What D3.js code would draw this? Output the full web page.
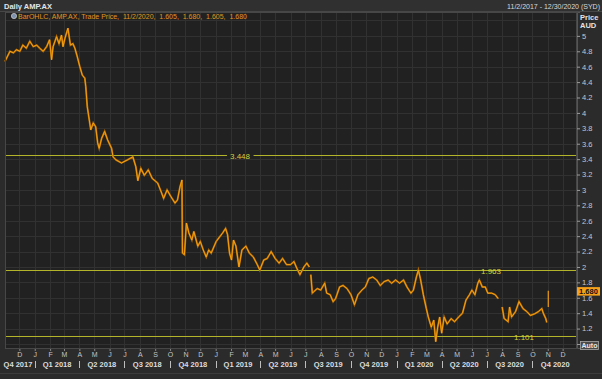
<!DOCTYPE html>
<html>
<head>
<meta charset="utf-8">
<script src="https://cdn.jsdelivr.net/npm/d3@7"></script>
<style>
  html, body { margin: 0; padding: 0; background: #2b2b2b; }
  svg { display: block; font-family: "Liberation Sans", Arial, sans-serif; }
</style>
</head>
<body>
<svg id="chart" width="602" height="379"></svg>
<script>
// daily closes (null = no trading / gap in the line)
const priceDates = [
  "2017-11-02","2017-11-12","2017-11-19","2017-11-25","2017-12-02","2017-12-08","2017-12-15","2017-12-22","2017-12-29",
  "2018-01-05","2018-01-11","2018-01-18","2018-01-25","2018-01-31","2018-02-04","2018-02-07","2018-02-14","2018-02-19",
  "2018-02-24","2018-02-27","2018-03-03","2018-03-09","2018-03-14","2018-03-19","2018-03-23","2018-03-27","2018-04-02",
  "2018-04-07","2018-04-12","2018-04-14","2018-04-17","2018-04-21","2018-04-24","2018-04-29","2018-05-04","2018-05-08",
  "2018-05-11","2018-05-16","2018-05-22","2018-05-28","2018-06-05","2018-06-08","2018-06-14","2018-06-25","2018-07-07",
  "2018-07-18","2018-07-24","2018-07-28","2018-08-03","2018-08-10","2018-08-18","2018-08-26","2018-09-06","2018-09-14",
  "2018-09-18","2018-09-25","2018-10-03","2018-10-11","2018-10-16","2018-10-21","2018-10-25","2018-10-26","2018-10-30",
  "2018-11-03","2018-11-08","2018-11-14","2018-11-18","2018-11-26","2018-12-01","2018-12-07","2018-12-13","2018-12-18",
  "2018-12-23","2019-01-02","2019-01-09","2019-01-15","2019-01-21","2019-01-25","2019-01-29","2019-02-02","2019-02-06",
  "2019-02-11","2019-02-17","2019-02-23","2019-03-03","2019-03-10","2019-03-18","2019-03-26","2019-03-31","2019-04-08",
  "2019-04-15","2019-04-23","2019-05-01","2019-05-09","2019-05-16","2019-05-24","2019-06-01","2019-06-08","2019-06-14",
  "2019-06-20","2019-06-28","2019-07-04","2019-07-09","2019-07-10","2019-07-12","2019-07-15","2019-07-18","2019-07-25",
  "2019-08-01","2019-08-09","2019-08-13","2019-08-20","2019-08-26","2019-08-31","2019-09-08","2019-09-15","2019-09-23",
  "2019-10-01","2019-10-08","2019-10-15","2019-10-23","2019-10-30","2019-11-06","2019-11-14","2019-11-22","2019-11-29",
  "2019-12-07","2019-12-15","2019-12-22","2019-12-30","2020-01-07","2020-01-15","2020-01-22","2020-01-30","2020-02-04",
  "2020-02-10","2020-02-14","2020-02-18","2020-02-24","2020-03-01","2020-03-05","2020-03-11","2020-03-16","2020-03-20",
  "2020-03-24","2020-03-28","2020-04-01","2020-04-06","2020-04-12","2020-04-20","2020-04-27","2020-05-05","2020-05-13",
  "2020-05-20","2020-05-27","2020-06-01","2020-06-07","2020-06-13","2020-06-16","2020-06-22","2020-06-28","2020-07-03",
  "2020-07-11","2020-07-18","2020-07-24","2020-07-28","2020-08-01","2020-08-05","2020-08-09","2020-08-13","2020-08-16",
  "2020-08-20","2020-08-28","2020-09-04","2020-09-12","2020-09-20","2020-09-27","2020-10-05","2020-10-13","2020-10-20",
  "2020-10-23","2020-10-28","2020-10-30"
];
const priceCloses = [
  4.67,4.80,4.78,4.82,4.80,4.88,4.84,4.93,4.86,
  4.88,4.84,4.80,4.86,4.95,4.69,4.86,4.99,4.90,
  5.01,4.86,4.97,5.10,4.88,4.90,4.84,4.75,4.60,
  4.49,4.45,4.34,4.08,3.91,3.78,3.87,3.82,3.61,
  3.54,3.67,3.76,3.65,3.54,3.43,3.39,3.35,3.39,
  3.43,3.30,3.12,3.28,3.19,3.26,3.15,3.09,2.96,
  2.89,3.00,2.91,2.83,2.87,3.04,3.13,2.18,2.16,
  2.57,2.44,2.35,2.46,2.27,2.33,2.22,2.13,2.22,
  2.18,2.33,2.39,2.44,2.50,2.42,2.18,2.09,2.35,
  2.27,2.00,2.22,2.27,2.18,2.13,2.03,1.96,2.09,
  2.11,2.20,2.11,2.05,2.11,2.03,2.03,2.07,1.98,
  1.90,2.00,2.05,2.00,null,1.90,1.66,1.68,1.72,
  1.70,1.79,1.66,1.64,1.55,1.59,1.74,1.76,1.72,
  1.64,1.51,1.64,1.70,1.74,1.85,1.87,1.83,1.76,
  1.81,1.83,1.79,1.83,1.79,1.83,1.74,1.66,1.70,
  1.87,1.96,1.85,1.64,1.46,1.35,1.22,1.31,1.03,
  1.22,1.35,1.14,1.35,1.26,1.33,1.29,1.35,1.40,
  1.57,1.64,1.70,1.64,1.79,1.83,1.74,1.74,1.66,
  1.66,1.64,1.59,null,1.48,1.33,1.31,1.29,1.48,
  1.35,1.42,1.55,1.46,1.42,1.37,1.39,1.42,1.46,
  1.40,1.33,1.28
];

// last bar (11/2/2020), high/low as drawn
const lastBarDate = "2020-11-02";
const lastBarLow = 1.48;
const lastBarHigh = 1.69;
const lastPrice = 1.680;

// horizontal reference lines
const refLevels = [3.448, 1.963, 1.101];
const refLabelX = [240, 491, 524];

const yTicks = [5, 4.8, 4.6, 4.4, 4.2, 4, 3.8, 3.6, 3.4, 3.2, 3, 2.8, 2.6, 2.4, 2.2, 2, 1.8, 1.6, 1.4, 1.2];
const yGrid = [1, 1.2, 1.4, 1.6, 1.8, 2, 2.2, 2.4, 2.6, 2.8, 3, 3.2, 3.4, 3.6, 3.8, 4, 4.2, 4.4, 4.6, 4.8, 5, 5.2];

const quarterLabels = ["Q4 2017","Q1 2018","Q2 2018","Q3 2018","Q4 2018","Q1 2019","Q2 2019","Q3 2019","Q4 2019","Q1 2020","Q2 2020","Q3 2020","Q4 2020"];
const quarterStarts = ["2017-10-01","2018-01-01","2018-04-01","2018-07-01","2018-10-01","2019-01-01","2019-04-01","2019-07-01","2019-10-01","2020-01-01","2020-04-01","2020-07-01","2020-10-01"];

const parse = d3.timeParse("%Y-%m-%d");

let svg = d3.select("#chart");
let W = 602, H = 379;
let plot = {left: 5, right: 577, top: 12, bottom: 349};

let x = d3.scaleTime()
  .domain([parse("2017-11-02"), parse("2020-12-30")])
  .range([plot.left, plot.right]);
let y = d3.scaleLinear()
  .domain([0.948, 5.31])
  .range([348, plot.top]);

// backgrounds
svg.append("rect").attr("width", W).attr("height", H).attr("fill", "#2b2b2b");
svg.append("rect").attr("width", W).attr("height", 11).attr("fill", "#303030");
svg.append("line").attr("x1", 0).attr("x2", W).attr("y1", 11.5).attr("y2", 11.5).attr("stroke", "#474747");
svg.append("rect")
  .attr("x", plot.left).attr("y", plot.top)
  .attr("width", plot.right - plot.left).attr("height", plot.bottom - plot.top)
  .attr("fill", "#212121");

let g = svg.append("g");

// grid
let months = d3.timeMonth.range(parse("2017-12-01"), parse("2021-01-01"));
g.selectAll(".vgrid").data(months).enter().append("line")
  .attr("x1", d => Math.round(x(d)) + 0.5).attr("x2", d => Math.round(x(d)) + 0.5)
  .attr("y1", plot.top).attr("y2", plot.bottom)
  .attr("stroke", "#313131");
g.selectAll(".hgrid").data(yGrid).enter().append("line")
  .attr("x1", plot.left).attr("x2", plot.right)
  .attr("y1", d => Math.round(y(d)) + 0.5).attr("y2", d => Math.round(y(d)) + 0.5)
  .attr("stroke", "#313131");

svg.append("rect")
  .attr("x", plot.left + 0.5).attr("y", plot.top + 0.5)
  .attr("width", plot.right - plot.left - 1).attr("height", plot.bottom - plot.top - 1)
  .attr("fill", "none").attr("stroke", "#474747");

// reference lines
refLevels.forEach(function(v, i) {
  let yy = Math.round(y(v)) + 0.5;
  g.append("line")
    .attr("x1", plot.left).attr("x2", plot.right)
    .attr("y1", yy).attr("y2", yy)
    .attr("stroke", "#b4b42a").attr("stroke-width", 1);
  let t = g.append("text")
    .attr("x", refLabelX[i]).attr("y", yy + 3)
    .attr("text-anchor", "middle")
    .attr("font-size", "8px")
    .attr("fill", "#d2d23c")
    .text(v.toFixed(3));
  let bb = t.node().getBBox();
  g.insert("rect", "text")
    .attr("x", bb.x - 3).attr("y", yy - 2).attr("width", bb.width + 6).attr("height", 4)
    .attr("fill", "#212121");
});

// price line
let series = priceDates.map((d, i) => ({date: parse(d), close: priceCloses[i]}));
let line = d3.line()
  .defined(d => d.close != null)
  .x(d => x(d.date))
  .y(d => y(d.close));

g.append("path")
  .datum(series)
  .attr("fill", "none")
  .attr("stroke", "#a86500")
  .attr("stroke-width", 1.9)
  .attr("stroke-linejoin", "miter")
  .attr("d", line);
g.append("path")
  .datum(series)
  .attr("fill", "none")
  .attr("stroke", "#ffa514")
  .attr("stroke-width", 0.9)
  .attr("stroke-linejoin", "miter")
  .attr("d", line);

g.append("line")
  .attr("x1", x(parse(lastBarDate))).attr("x2", x(parse(lastBarDate)))
  .attr("y1", y(lastBarLow)).attr("y2", y(lastBarHigh))
  .attr("stroke", "#ffa514").attr("stroke-width", 1.1);

// header texts
svg.append("text")
  .attr("x", 4).attr("y", 9)
  .attr("font-size", "7.5px").attr("font-weight", "bold")
  .attr("fill", "#e4e4e4")
  .text("Daily AMP.AX");
svg.append("text")
  .attr("x", 600).attr("y", 9)
  .attr("text-anchor", "end")
  .attr("font-size", "7px")
  .attr("fill", "#d8d8d8")
  .text("11/2/2017 - 12/30/2020 (SYD)");

// legend
svg.append("circle").attr("cx", 14).attr("cy", 16).attr("r", 2.6)
  .attr("fill", "#7d93ad").attr("stroke", "#c4c4c4").attr("stroke-width", 0.8);
svg.append("text")
  .attr("x", 18).attr("y", 19)
  .attr("font-size", "7px")
  .attr("fill", "#e3951c")
  .attr("xml:space", "preserve")
  .text("BarOHLC, AMP.AX, Trade Price,  11/2/2020,  1.605,  1.680,  1.605,  1.680");

// right axis
svg.append("text").attr("x", 580).attr("y", 19.5)
  .attr("font-size", "7.5px").attr("font-weight", "bold").attr("fill", "#e4e4e4").text("Price");
svg.append("text").attr("x", 580).attr("y", 28)
  .attr("font-size", "7.5px").attr("font-weight", "bold").attr("fill", "#e4e4e4").text("AUD");

let yAxis = svg.append("g")
  .attr("transform", "translate(" + plot.right + ",0)")
  .call(d3.axisRight(y).tickValues(yTicks.concat([1])).tickSize(3).tickPadding(2)
    .tickFormat(d => d === 1 ? "" : String(d)));
yAxis.select(".domain").attr("stroke", "#555");
yAxis.selectAll(".tick line").attr("stroke", "#9a9a9a");
yAxis.selectAll(".tick text").attr("fill", "#c8c8c8").attr("font-size", "7.5px")
  .attr("font-family", "'Liberation Sans', Arial, sans-serif");

// last price flag
let ly = y(lastPrice);
svg.append("rect").attr("x", 577).attr("y", ly - 4.5).attr("width", 23).attr("height", 8.5).attr("fill", "#f7a11a");
svg.append("text").attr("x", 588.5).attr("y", ly + 2.5)
  .attr("text-anchor", "middle").attr("font-size", "7.5px").attr("font-weight", "bold")
  .attr("fill", "#111").text(lastPrice.toFixed(3));

// auto button
svg.append("rect").attr("x", 580.5).attr("y", 341.5).attr("width", 18).attr("height", 8)
  .attr("fill", "#4a4a4a").attr("stroke", "#a8a8a8").attr("stroke-width", 0.8);
svg.append("text").attr("x", 589.5).attr("y", 348.3)
  .attr("text-anchor", "middle").attr("font-size", "7px").attr("font-weight", "bold")
  .attr("fill", "#e8e8e8").text("Auto");

// bottom axis: months
let xAxis = svg.append("g")
  .attr("transform", "translate(0," + plot.bottom + ")")
  .call(d3.axisBottom(x).tickValues(months).tickSize(2).tickPadding(1)
    .tickFormat(d => d3.timeFormat("%b")(d).charAt(0)));
xAxis.select(".domain").remove();
xAxis.selectAll(".tick line").attr("stroke", "#888");
xAxis.selectAll(".tick text").attr("fill", "#c4c4c4").attr("font-size", "7px")
  .attr("font-family", "'Liberation Sans', Arial, sans-serif");

// quarters
let qEnd = parse("2021-01-01");
quarterStarts.forEach(function(s, i) {
  let x0 = x(parse(s));
  let x1 = i < quarterStarts.length - 1 ? x(parse(quarterStarts[i + 1])) : x(qEnd);
  if (i > 0) {
    svg.append("line").attr("x1", Math.round(x0) + 0.5).attr("x2", Math.round(x0) + 0.5)
      .attr("y1", 361).attr("y2", 368).attr("stroke", "#bdbdbd");
  }
  let cx = Math.max((x0 + x1) / 2, plot.left + 13);
  svg.append("text").attr("x", cx).attr("y", 366.5)
    .attr("text-anchor", "middle").attr("font-size", "7.5px").attr("font-weight", "bold")
    .attr("fill", "#dcdcdc").text(quarterLabels[i]);
});

svg.append("line").attr("x1", 0).attr("x2", W).attr("y1", 373.5).attr("y2", 373.5).attr("stroke", "#3c3c3c");
</script>
</body>
</html>
